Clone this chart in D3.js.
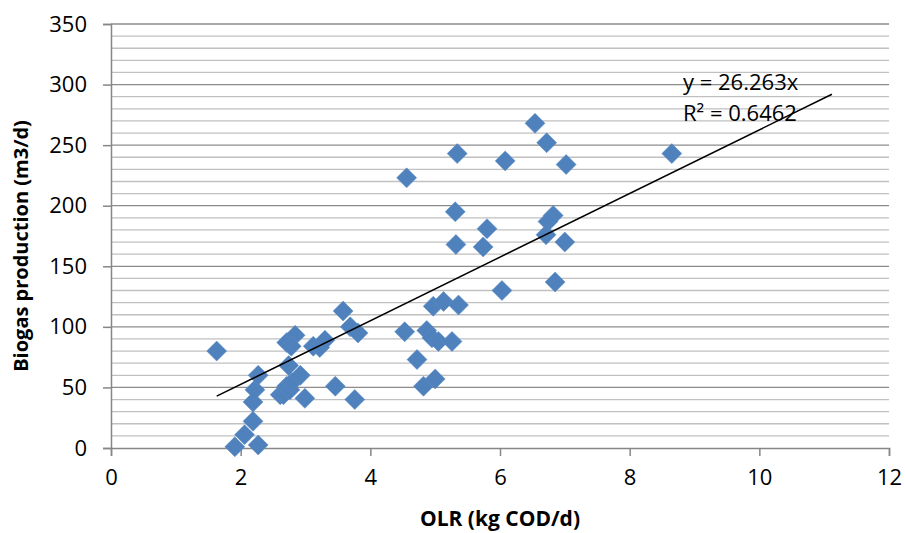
<!DOCTYPE html>
<html>
<head>
<meta charset="utf-8">
<script src="https://cdn.jsdelivr.net/npm/d3@7"></script>
<style>
  body { margin: 0; background: #fff; }
  text { font-family: "Open Sans", "Liberation Sans", sans-serif; }
</style>
</head>
<body>
<svg width="905" height="533"></svg>
<script>
// OLR (kg COD/d) vs biogas (m3/d)
const olr = [1.63, 1.91, 2.06, 2.19, 2.19, 2.22, 2.27, 2.27, 2.61, 2.66, 2.71, 2.76, 2.79,
  2.74, 2.71, 2.84, 2.78, 2.92, 2.99, 3.12, 3.22, 3.30, 3.46, 3.58, 3.69, 3.81, 3.76,
  4.53, 4.56, 4.72, 4.82, 4.87, 4.95, 5.05, 5.00, 4.97, 5.13, 5.26, 5.36, 5.32, 5.31,
  5.34, 5.74, 5.80, 6.03, 6.08, 6.54, 6.72, 7.02, 6.82, 6.74, 6.71, 7.00, 6.85, 8.65];
const biogas = [80, 1, 11, 22, 38, 48, 60, 2.5, 44, 44, 51, 48, 54,
  68, 87, 93, 84, 60, 41, 84, 83, 89, 51, 113, 100, 95, 40,
  96, 223, 73, 51, 97, 91, 88, 57, 117, 121, 88, 118, 168, 195,
  243, 166, 181, 130, 237, 268, 252, 234, 192, 187, 176, 170, 137, 243];
const slope = 26.263;
const r2 = "0.6462";
const xTicks = [0, 2, 4, 6, 8, 10, 12];
const yTicks = [0, 50, 100, 150, 200, 250, 300, 350];

const svg = d3.select("svg");
const mLeft = 111, mRight = 889, mTop = 24, mBottom = 448;

const x = d3.scaleLinear().domain([0, 12]).range([mLeft, mRight]);
const y = d3.scaleLinear().domain([0, 350]).range([mBottom, mTop]);

// minor gridlines every 10, major every 50
const grid = svg.append("g");
grid.selectAll("line.minor")
  .data(d3.range(10, 351, 10).filter(v => v % 50 != 0))
  .join("line")
  .attr("x1", mLeft).attr("x2", mRight)
  .attr("y1", d => y(d)).attr("y2", d => y(d))
  .attr("stroke", "#c0c0c0").attr("stroke-width", 1.3);
grid.selectAll("line.major")
  .data(yTicks.slice(1))
  .join("line")
  .attr("x1", mLeft).attr("x2", mRight)
  .attr("y1", d => y(d)).attr("y2", d => y(d))
  .attr("stroke", "#8c8c8c").attr("stroke-width", 1.3);

const xAxis = svg.append("g")
  .attr("transform", `translate(0,${mBottom})`)
  .call(d3.axisBottom(x).tickValues(xTicks).tickSize(8).tickPadding(13));
const yAxis = svg.append("g")
  .attr("transform", `translate(${mLeft},0)`)
  .call(d3.axisLeft(y).tickValues(yTicks).tickSize(8).tickPadding(16));

[xAxis, yAxis].forEach(g => {
  g.select(".domain").attr("stroke", "#868686").attr("stroke-width", 1.5);
  g.selectAll(".tick line").attr("stroke", "#868686").attr("stroke-width", 1.5);
  g.selectAll(".tick text").attr("fill", "#000")
    .style("font-size", "22px").style("font-family", "Open Sans, sans-serif");
});

// points
svg.append("g").selectAll("path")
  .data(olr.map((v, i) => [v, biogas[i]]))
  .join("path")
  .attr("d", d3.symbol().type(d3.symbolSquare).size(200))
  .attr("transform", d => `translate(${x(d[0])},${y(d[1])}) rotate(45)`)
  .attr("fill", "#4f81bd")
  .attr("stroke", "#5b8cc6").attr("stroke-width", 0.5);

// trendline
const tx = [1.63, 11.12];
svg.append("line")
  .attr("x1", x(tx[0])).attr("y1", y(slope * tx[0]))
  .attr("x2", x(tx[1])).attr("y2", y(slope * tx[1]))
  .attr("stroke", "#000").attr("stroke-width", 1.5);

svg.append("text").attr("x", 683).attr("y", 90)
  .style("font-size", "22px").text(`y = ${slope}x`);
svg.append("text").attr("x", 683).attr("y", 121)
  .style("font-size", "22px").text(`R² = ${r2}`);

// axis titles
svg.append("text")
  .attr("transform", `translate(28,${(mTop + mBottom) / 2 + 10}) rotate(-90)`)
  .attr("text-anchor", "middle")
  .style("font-size", "20px").style("font-weight", "bold")
  .text("Biogas production (m3/d)");
svg.append("text")
  .attr("x", (mLeft + mRight) / 2).attr("y", 526)
  .attr("text-anchor", "middle")
  .style("font-size", "21px").style("font-weight", "bold")
  .text("OLR (kg COD/d)");
</script>
</body>
</html>
